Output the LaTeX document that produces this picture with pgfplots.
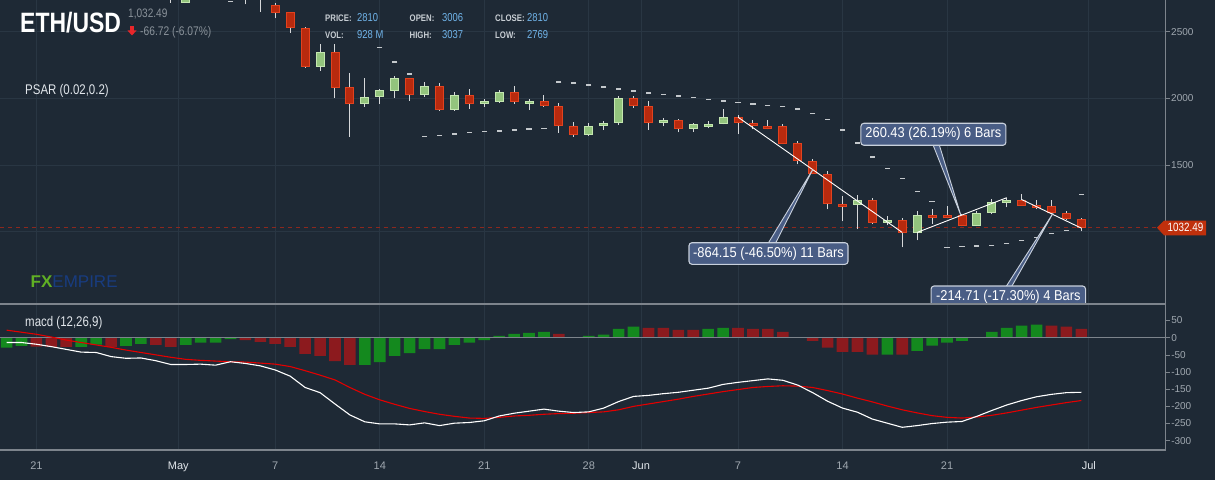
\documentclass[border=0pt]{standalone}
\usepackage{fontspec}
\setmainfont{Liberation Sans}
\newfontfamily\cond{Liberation Sans}[FakeStretch=0.82]
\newfontfamily\condb{Liberation Sans}[FakeStretch=0.9]
\usepackage{pgfplots}
\usepackage{pgfplotstable}
\pgfplotsset{compat=1.18}

\definecolor{bg}{RGB}{30,41,53}
\definecolor{gridc}{RGB}{41,54,67}
\definecolor{axc}{RGB}{125,132,140}
\definecolor{tickc}{RGB}{160,168,176}
\definecolor{monc}{RGB}{225,230,235}
\definecolor{upF}{RGB}{147,196,125}
\definecolor{upB}{RGB}{196,230,176}
\definecolor{dnF}{RGB}{184,42,14}
\definecolor{dnB}{RGB}{226,66,30}
\definecolor{wickc}{RGB}{214,216,218}
\definecolor{psarc}{RGB}{196,200,204}
\definecolor{hg}{RGB}{20,137,30}
\definecolor{hr}{RGB}{140,26,30}
\definecolor{sigc}{RGB}{228,0,0}
\definecolor{cbfill}{RGB}{73,93,133}
\definecolor{cbedge}{RGB}{200,208,220}
\definecolor{pricered}{RGB}{192,48,12}
\definecolor{dashred}{RGB}{140,40,30}
\definecolor{valblue}{RGB}{112,180,234}
\definecolor{hdrgray}{RGB}{138,146,154}
\definecolor{lblc}{RGB}{200,206,212}
\definecolor{fxgreen}{RGB}{96,176,36}
\definecolor{fxblue}{RGB}{24,60,128}
\definecolor{arrred}{RGB}{232,38,42}

\pgfdeclareplotmark{cbody}{%
  \pgfpathrectangle{\pgfpoint{-4pt}{0pt}}{\pgfpoint{8pt}{\bodyh pt}}%
  \pgfusepathqfillstroke}
\pgfdeclareplotmark{cwick}{%
  \pgfpathmoveto{\pgfpoint{0pt}{0pt}}%
  \pgfpathlineto{\pgfpoint{0pt}{\wickh pt}}%
  \pgfusepathqstroke}

% candles: day index (May 1 = 1), open high low close
\pgfplotstableread{
d o h l c
1 2722 2840 2715 2830
2 2830 2880 2770 2860
4 2780 2960 2770 2940
10 2237 2407 2207 2345
13 1963 2150 1937 2008
14 2012 2070 1957 2062
15 2057 2167 2005 2150
17 2027 2120 2012 2090
19 1915 2045 1907 2022
21 1960 1993 1937 1978
22 1975 2060 1967 2045
24 1963 1993 1915 1978
28 1727 1812 1720 1790
29 1795 1827 1765 1812
30 1817 2015 1802 2000
33 1817 1855 1790 1835
35 1772 1817 1750 1807
36 1790 1827 1775 1807
37 1812 1917 1805 1857
46 1205 1272 1017 1235
48 1070 1115 1047 1085
50 995 1152 935 1122
54 1047 1152 1040 1137
55 1145 1242 1130 1220
56 1220 1250 1182 1235
}\up
\pgfplotstableread{
d o h l c
0 2800 2820 2715 2722
3 2860 2870 2760 2780
5 2940 2955 2705 2750
6 2750 2760 2647 2702
7 2698 2713 2600 2645
8 2645 2650 2492 2533
9 2525 2537 2230 2237
11 2345 2407 2005 2080
12 2083 2192 1712 1963
16 2150 2155 1982 2027
18 2090 2112 1907 1915
20 2022 2067 1922 1960
23 2045 2090 1960 1975
25 1978 2022 1937 1945
26 1940 1962 1742 1795
27 1790 1820 1712 1727
31 2000 2015 1930 1945
32 1940 1977 1765 1817
34 1835 1847 1745 1775
38 1857 1872 1732 1817
39 1812 1835 1767 1797
40 1790 1835 1767 1775
41 1790 1805 1660 1662
42 1662 1677 1505 1535
43 1527 1542 1430 1437
44 1430 1452 1167 1212
45 1205 1265 1077 1190
47 1235 1250 1055 1070
49 1085 1100 883 995
51 1122 1167 1055 1107
52 1122 1190 1100 1107
53 1122 1130 1040 1047
57 1235 1280 1197 1197
58 1197 1235 1167 1182
59 1190 1235 1130 1145
60 1137 1152 1085 1100
61 1092 1100 1002 1032.49
}\dn
\pgfplotstableread{
d p
4 2725
14 2380
15 2272
16 2182
17 1715
18 1722
19 1732
20 1742
21 1750
22 1755
23 1762
24 1770
25 1775
26 2122
27 2115
28 2100
29 2085
30 2070
31 2055
32 2040
33 2027
34 2017
35 2005
36 1992
37 1980
38 1967
39 1957
40 1947
41 1940
42 1920
43 1887
44 1842
45 1762
46 1665
47 1560
48 1472
49 1397
50 1302
51 1227
52 880
53 887
54 892
55 897
56 910
57 932
58 957
59 985
60 1007
61 1277
}\psar
\pgfplotstableread{
d v
-11 -29
-10 -24
-6 -27
-5 -20
-3 -24
-2 -18
1 -21
2 -14.5
3 -14.5
4 -4
13 -79
14 -71
15 -53
16 -45
17 -33
18 -33
19 -21
20 -14.5
21 -7
22 5
23 11
24 14
25 17
28 5
29 9
30 26
31 32
36 26
37 29
48 -49
50 -38
51 -23
52 -14
53 -9
54 1
55 17
56 29
57 35
58 38
}\hgreen
\pgfplotstableread{
d v
-9 -26
-8 -27
-7 -27
-4 -27
-1 -21
0 -27
5 -7
6 -12
7 -18
8 -27
9 -47
10 -53
11 -68
12 -79
26 11
27 2
32 29
33 29
34 23
35 23
38 29
39 26
40 26
41 17
42 1
43 -9
44 -29
45 -41
46 -41
47 -49
49 -49
59 35
60 32
61 26
}\hred
\pgfplotstableread{
d m s
-11 -14 22
-10 -14 16
-9 -19 10
-8 -26 2
-7 -34 -7
-6 -42 -14
-5 -43 -21
-4 -55 -28
-3 -60 -36
-2 -59 -43
-1 -67 -50
0 -78 -57
1 -78 -63
2 -77 -66
3 -80 -68
4 -70 -70
5 -75 -71
6 -82 -74
7 -94 -77
8 -112 -84
9 -145 -96
10 -160 -109
11 -193 -123
12 -225 -145
13 -245 -165
14 -251 -181
15 -251 -194
16 -254 -206
17 -248 -215
18 -256 -223
19 -249 -229
20 -247 -234
21 -242 -235
22 -228 -232
23 -220 -228
24 -214 -226
25 -208 -223
26 -214 -221
27 -218 -220
28 -216 -218
29 -205 -216
30 -186 -210
31 -171 -200
32 -168 -193
33 -163 -186
34 -159 -179
35 -153 -171
36 -147 -164
37 -136 -157
38 -130 -151
39 -125 -145
40 -120 -142
41 -124 -140
42 -138 -141
43 -160 -145
44 -185 -154
45 -205 -164
46 -217 -176
47 -237 -187
48 -249 -199
49 -261 -210
50 -256 -219
51 -250 -227
52 -246 -232
53 -244 -234
54 -229 -231
55 -212 -226
56 -196 -219
57 -183 -211
58 -172 -203
59 -165 -196
60 -160 -189
61 -159 -183
}\macd

\pgfplotsset{
  candlewick/.style={scatter, only marks, mark=cwick,
    mark options={draw=wickc, line width=1pt},
    visualization depends on={(\thisrow{h}-\thisrow{l})*0.1333333 \as \wickh},
    scatter/@pre marker code/.code={}, scatter/@post marker code/.code={}},
  candlebody/.style={scatter, only marks, mark=cbody,
    visualization depends on={(\thisrow{c}-\thisrow{o})*0.1333333 \as \bodyh},
    scatter/@pre marker code/.code={}, scatter/@post marker code/.code={}},
}

\begin{document}
\begin{tikzpicture}[x=1pt,y=1pt]
\useasboundingbox (0,0) rectangle (1215,480);
\fill[bg] (0,0) rectangle (1215,480);

% ---------------- price panel ----------------
\begin{axis}[
  at={(0pt,176pt)}, anchor=south west,
  scale only axis, width=1165.7pt, height=304pt,
  xmin=-11.44, xmax=66.65, ymin=457.5, ymax=2737.5,
  enlargelimits=false,
  axis line style={draw=none},
  xtick={-9,0.5,7,14,21,28,31.5,38,45,52,61.5},
  xticklabels={},
  major x tick style={draw=none},
  ytick={1000,1500,2000,2500},
  yticklabels={,1500,2000,2500},
  ytick pos=right, yticklabel pos=right,
  tick align=outside, major tick length=4pt,
  y tick style={draw=axc, line width=0.6pt},
  yticklabel style={font=\fontsize{10}{12}\selectfont, text=tickc, anchor=west, xshift=-2pt},
  grid=major, grid style={draw=gridc, line width=0.8pt},
  clip marker paths=true,
]
\addplot[draw=dashred, line width=1.6pt, dash pattern=on 4pt off 4pt] coordinates {(-11.44,1032.49) (66.65,1032.49)};
\addplot[candlewick] table[x=d, y=l] {\up};
\addplot[candlewick] table[x=d, y=l] {\dn};
\addplot[candlebody, mark options={draw=upB, fill=upF, line width=0.9pt}] table[x=d, y=o] {\up};
\addplot[candlebody, mark options={draw=dnB, fill=dnF, line width=0.9pt}] table[x=d, y=o] {\dn};
\addplot[only marks, mark=-, mark size=2.6pt, mark options={draw=psarc, line width=1.5pt}] table[x=d, y=p] {\psar};
% measurement lines
\addplot[draw=white, line width=0.9pt] coordinates {(38,1858.4) (49,994.3)};
\addplot[draw=white, line width=0.9pt] coordinates {(50,994.4) (56,1254.8)};
\addplot[draw=white, line width=0.9pt] coordinates {(57,1241.1) (61,1026.4)};
% callout pointers
\addplot[fill=cbfill, draw=cbedge, line width=0.9pt] coordinates {(39.95,900) (43,1465) (40.45,900)};
\addplot[fill=cbfill, draw=cbedge, line width=0.9pt] coordinates {(50.96,1680) (52.92,1125) (51.4,1680)};
\addplot[fill=cbfill, draw=cbedge, line width=0.9pt] coordinates {(55.81,562.5) (59.1,1138) (56.2,562.5)};
\end{axis}

% ---------------- MACD panel ----------------
\begin{axis}[
  at={(0pt,30pt)}, anchor=south west,
  scale only axis, width=1165.7pt, height=146pt,
  xmin=-11.44, xmax=66.65, ymin=-327.1, ymax=98.2,
  enlargelimits=false,
  axis line style={draw=none},
  xtick={-9,0.5,7,14,21,28,31.5,38,45,52,61.5},
  xticklabels={21,\textcolor{monc}{May},7,14,21,28,\textcolor{monc}{Jun},7,14,21,\textcolor{monc}{Jul}},
  major x tick style={draw=none},
  xticklabel style={font=\fontsize{11}{13}\selectfont, text=tickc, anchor=base, yshift=-15pt},
  ytick={-300,-250,-200,-150,-100,-50,0,50},
  yticklabels={-300,-250,-200,-150,-100,-50,0,50},
  ytick pos=right, yticklabel pos=right,
  tick align=outside, major tick length=4pt,
  y tick style={draw=axc, line width=0.6pt},
  yticklabel style={font=\fontsize{10}{12}\selectfont, text=tickc, anchor=west, xshift=-2pt},
  xmajorgrids, grid style={draw=gridc, line width=0.8pt},
]
\addplot[ybar, bar width=11.6pt, bar shift=0pt, fill=hg, draw=none] table[x=d, y=v] {\hgreen};
\addplot[ybar, bar width=11.6pt, bar shift=0pt, fill=hr, draw=none] table[x=d, y=v] {\hred};
\addplot[draw=axc, line width=1pt] coordinates {(-11.44,0) (66.65,0)};
\addplot[draw=sigc, line width=1.1pt] table[x=d, y=s] {\macd};
\addplot[draw=white, line width=1.1pt] table[x=d, y=m] {\macd};
\end{axis}

% callout boxes
\node[fill=cbfill, draw=cbedge, line width=1.1pt, rounded corners=3pt, minimum width=159pt, minimum height=21.6pt, inner sep=0pt, text=white, font=\condb\fontsize{14.3}{16}\selectfont] at (768.5,226.5) {-864.15 (-46.50\%) 11 Bars};
\node[fill=cbfill, draw=cbedge, line width=1.1pt, rounded corners=3pt, minimum width=145pt, minimum height=22pt, inner sep=0pt, text=white, font=\condb\fontsize{14.3}{16}\selectfont] at (933.4,345.7) {260.43 (26.19\%) 6 Bars};
\begin{scope}
\clip (0,176) rectangle (1165.7,480);
\node[fill=cbfill, draw=cbedge, line width=1.1pt, rounded corners=3pt, minimum width=154.5pt, minimum height=22pt, inner sep=0pt, text=white, font=\condb\fontsize{14.3}{16}\selectfont] at (1008.3,183) {-214.71 (-17.30\%) 4 Bars};
\end{scope}

% frame lines
\draw[axc, line width=1.2pt] (0,176) -- (1165.7,176);
\draw[axc, line width=1.2pt] (0,30) -- (1165.7,30);
\draw[axc, line width=1pt] (1165.7,30) -- (1165.7,480);

% price marker
\fill[pricered] (1157,252.3) -- (1164,259.3) -- (1206,259.3) -- (1206,244.7) -- (1164,244.7) -- cycle;
\node[font=\cond\fontsize{12}{14}\selectfont, text=white, inner sep=0pt] at (1185.5,252.3) {1032.49};

% header
\node[anchor=base west, inner sep=0pt, text=white, font=\cond\bfseries\fontsize{28}{30}\selectfont] at (20,447) {ETH/USD};
\node[anchor=base west, inner sep=0pt, text=hdrgray, font=\cond\fontsize{12.3}{13}\selectfont] at (128,462) {1,032.49};
\fill[arrred] (130,453.5) rectangle (134,449);
\fill[arrred] (127.5,449.5) -- (136.5,449.5) -- (132,444.5) -- cycle;
\node[anchor=base west, inner sep=0pt, text=hdrgray, font=\cond\fontsize{12.5}{13}\selectfont] at (140,444) {-66.72 (-6.07\%)};

\begin{scope}[every node/.style={anchor=base west, inner sep=0pt}]
\node[text=lblc, font=\cond\bfseries\fontsize{9.5}{11}\selectfont] at (325,458) {PRICE:};
\node[text=valblue, font=\cond\fontsize{11.5}{13}\selectfont] at (357,458.5) {2810};
\node[text=lblc, font=\cond\bfseries\fontsize{9.5}{11}\selectfont] at (325,441) {VOL:};
\node[text=valblue, font=\cond\fontsize{11.5}{13}\selectfont] at (357,441.5) {928 M};
\node[text=lblc, font=\cond\bfseries\fontsize{9.5}{11}\selectfont] at (409.5,458) {OPEN:};
\node[text=valblue, font=\cond\fontsize{11.5}{13}\selectfont] at (442,458.5) {3006};
\node[text=lblc, font=\cond\bfseries\fontsize{9.5}{11}\selectfont] at (409.5,441) {HIGH:};
\node[text=valblue, font=\cond\fontsize{11.5}{13}\selectfont] at (442,441.5) {3037};
\node[text=lblc, font=\cond\bfseries\fontsize{9.5}{11}\selectfont] at (495,458) {CLOSE:};
\node[text=valblue, font=\cond\fontsize{11.5}{13}\selectfont] at (527,458.5) {2810};
\node[text=lblc, font=\cond\bfseries\fontsize{9.5}{11}\selectfont] at (495,441) {LOW:};
\node[text=valblue, font=\cond\fontsize{11.5}{13}\selectfont] at (527,441.5) {2769};

\node[text=monc, font=\cond\fontsize{14}{16}\selectfont] at (25,385) {PSAR (0.02,0.2)};
\node[text=monc, font=\cond\fontsize{14}{16}\selectfont] at (25,154) {macd (12,26,9)};
\node[font=\fontsize{17}{19}\selectfont] at (30.5,193) {\textcolor{fxgreen}{\bfseries FX}\textcolor{fxblue}{EMPIRE}};
\end{scope}
\end{tikzpicture}
\end{document}
